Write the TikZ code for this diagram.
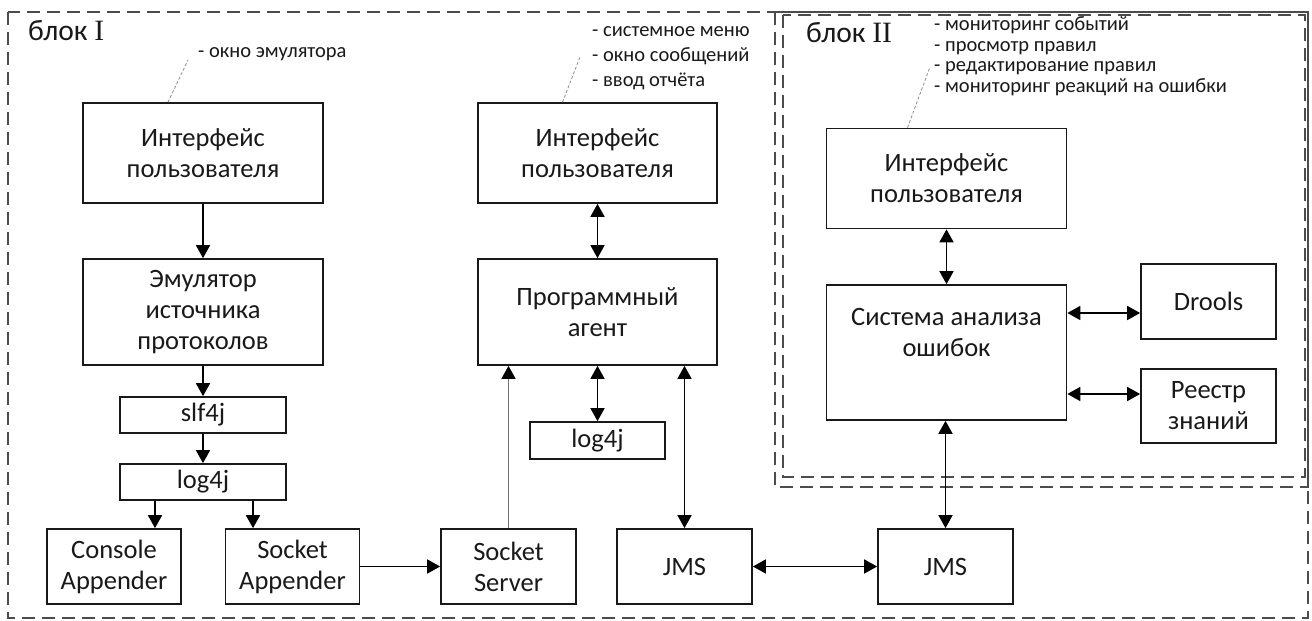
\documentclass[tikz,border=0pt]{standalone}
\usepackage{fontspec}
\setmainfont{Carlito}
\newfontfamily\romfont{Liberation Serif}
\usetikzlibrary{arrows.meta}

\tikzset{
  box/.style={draw=black!90, line width=1.7pt, fill=white, align=center, inner sep=2pt,
    text=black!90, font=\fontsize{26.5}{31}\selectfont},
  arr/.style={line width=1.7pt, -{Triangle[length=13pt,width=14pt]}},
  darr/.style={line width=1.7pt, {Triangle[length=13pt,width=14pt]}-{Triangle[length=13pt,width=14pt]}},
  blockline/.style={draw=black!70, line width=2pt, dash pattern=on 13pt off 7pt},
  note/.style={anchor=north west, align=left, inner sep=0pt, text=black!90},
  leader/.style={draw=black!45, line width=0.8pt, dash pattern=on 3pt off 2pt},
  blocktitle/.style={anchor=west, inner sep=0pt, text=black!90, font=\fontsize{29.5}{32}\selectfont}
}

\begin{document}
\begin{tikzpicture}[x=1pt,y=-1pt]
\useasboundingbox (0,0) rectangle (1312,621);

	% blocks
		\draw[blockline] (8,12) rectangle (1308,618);
		\draw[blockline] (775,12) rectangle (1308,487);
		\draw[blockline] (783,15) rectangle (1305,477);
		\node[blocktitle] (titleA) at (28,31) {блок {\romfont I}};
		\node[blocktitle] (titleB) at (806,33) {блок {\romfont II}};

	% block I: emulator column
		\node[box, minimum width=240, minimum height=100] (uiA) at (203,153) {Интерфейс\\пользователя};
		\node[box, minimum width=240, minimum height=106] (emul) at (203,312) {Эмулятор\\источника\\протоколов};
		\node[box, minimum width=166, minimum height=36] (slf) at (203,415) {slf4j};
		\node[box, minimum width=166, minimum height=36] (logA) at (203,482) {log4j};
		\node[box, minimum width=134, minimum height=75] (console) at (114,566.5) {Console\\Appender};
		\node[box, minimum width=134, minimum height=75] (sockapp) at (292.5,566.5) {Socket\\Appender};
		\node[box, minimum width=135, minimum height=75] (sockserv) at (508.5,566.5) {Socket\\Server};

		\draw[arr] (uiA) -- (emul);
		\draw[arr] (emul) -- (slf);
		\draw[arr] (slf) -- (logA);
		\draw[arr] ([xshift=-48pt]logA.south) -- ([xshift=-48pt]logA.south |- console.north);
		\draw[arr] ([xshift=50pt]logA.south) -- ([xshift=50pt]logA.south |- sockapp.north);
		\draw[arr] (sockapp) -- (sockserv);

	% block I: agent column
		\node[box, minimum width=239, minimum height=100] (uiB) at (597.5,153) {Интерфейс\\пользователя};
		\node[box, minimum width=239, minimum height=106] (agent) at (597.5,312) {Программный\\агент};
		\node[box, minimum width=135, minimum height=37] (logB) at (597.5,440.5) {log4j};
		\node[box, minimum width=135, minimum height=75] (jmsA) at (684.5,566.5) {JMS};

		\draw[line width=1.7pt, draw=black!55, -{Triangle[length=13pt,width=14pt,color=black]}]
			(sockserv) -- (sockserv.north |- agent.south);
		\draw[darr] (uiB) -- (agent);
		\draw[darr] (agent) -- (logB);
		\draw[darr] (jmsA.north |- agent.south) -- (jmsA);

	% block II
		\node[box, minimum width=240, minimum height=100] (uiC) at (946.5,178.5) {Интерфейс\\пользователя};
		\node[box, minimum width=240, minimum height=135] (sys) at (946.5,352.5) {Система анализа\\ошибок\\\strut};
		\node[box, minimum width=135, minimum height=75] (drools) at (1208.5,301.5) {Drools};
		\node[box, minimum width=135, minimum height=74] (reestr) at (1208.5,406) {Реестр\\знаний};
		\node[box, minimum width=135, minimum height=75] (jmsB) at (945.5,566.5) {JMS};

		\draw[darr] (uiC) -- (sys);
		\draw[darr] (sys.east |- 0,313) -- (drools.west |- 0,313);
		\draw[darr] (sys.east |- 0,394) -- (reestr.west |- 0,394);
		\draw[darr] (jmsA) -- (jmsB);
		\draw[darr] (jmsB.north |- sys.south) -- (jmsB);

	% notes
		\node[note, font=\fontsize{20.5}{25}\selectfont] (noteA) at (198,40) {\strut- окно эмулятора};
		\node[note, font=\fontsize{20.5}{25}\selectfont] (noteB) at (592,19) {\strut- системное меню\\- окно сообщений\\- ввод отчёта};
		\node[note, font=\fontsize{20.5}{20.5}\selectfont] (noteC) at (934,16) {\strut- мониторинг событий\\- просмотр правил\\- редактирование правил\\- мониторинг реакций на ошибки};

		\coordinate (tipA) at (188,60);
		\coordinate (tipB) at (580,57);
		\coordinate (tipC) at (930,67);
		\draw[leader] ([xshift=-35pt]uiA.north) -- (tipA);
		\draw[leader] ([xshift=-35pt]uiB.north) -- (tipB);
		\draw[leader] ([xshift=-39pt]uiC.north) -- (tipC);
\end{tikzpicture}
\end{document}
